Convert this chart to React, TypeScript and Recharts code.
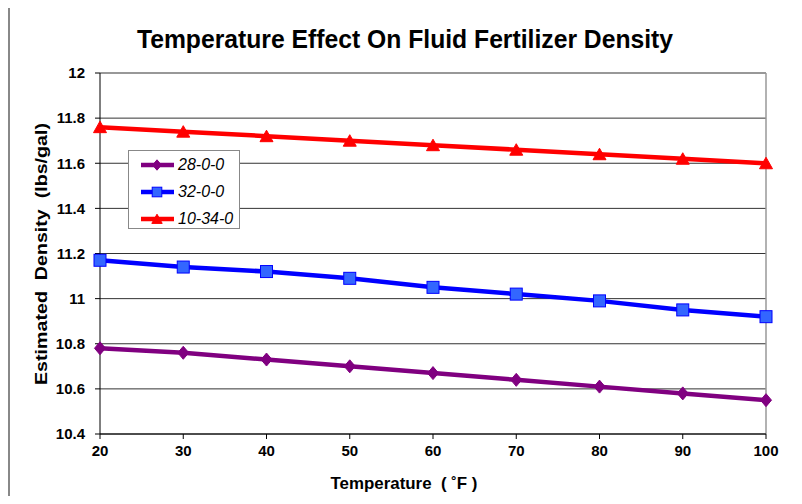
import React from "react";
import {
  LineChart,
  Line,
  XAxis,
  YAxis,
  CartesianGrid,
  Legend,
  ReferenceLine,
  Label,
} from "recharts";

// temperatures (F)
const temps = [20, 30, 40, 50, 60, 70, 80, 90, 100];
// estimated density, lbs/gal
const uan28 = [10.78, 10.76, 10.73, 10.7, 10.67, 10.64, 10.61, 10.58, 10.55];
const uan32 = [11.17, 11.14, 11.12, 11.09, 11.05, 11.02, 10.99, 10.95, 10.92];
const apoly = [11.76, 11.74, 11.72, 11.7, 11.68, 11.66, 11.64, 11.62, 11.6];

const seriesNames = ["28-0-0", "32-0-0", "10-34-0"];
const xTicks = [20, 30, 40, 50, 60, 70, 80, 90, 100];
const yTicks = [10.4, 10.6, 10.8, 11, 11.2, 11.4, 11.6, 11.8, 12];

const data = temps.map((t, i) => ({
  t,
  [seriesNames[0]]: uan28[i],
  [seriesNames[1]]: uan32[i],
  [seriesNames[2]]: apoly[i],
}));

const FONT = '"Liberation Sans", Arial, sans-serif';

const PURPLE = "#800080";
const BLUE = "#0000FF";
const RED = "#FF0000";

function Diamond({ cx, cy, s = 1 }: { cx: number; cy: number; s?: number }) {
  return (
    <polygon
      points={`${cx},${cy - 6.5 * s} ${cx + 5.5 * s},${cy} ${cx},${cy + 6.5 * s} ${cx - 5.5 * s},${cy}`}
      fill={PURPLE}
      stroke={PURPLE}
    />
  );
}

function Square({ cx, cy, s = 1 }: { cx: number; cy: number; s?: number }) {
  return (
    <rect
      x={cx - 6 * s}
      y={cy - 6 * s}
      width={12 * s}
      height={12 * s}
      fill="#3366FF"
      stroke={BLUE}
      strokeWidth={1}
    />
  );
}

function Triangle({ cx, cy, s = 1 }: { cx: number; cy: number; s?: number }) {
  return (
    <polygon
      points={`${cx},${cy - 6 * s} ${cx + 6.5 * s},${cy + 5.5 * s} ${cx - 6.5 * s},${cy + 5.5 * s}`}
      fill={RED}
      stroke={RED}
    />
  );
}

const markers: Record<string, any> = {
  "28-0-0": Diamond,
  "32-0-0": Square,
  "10-34-0": Triangle,
};
const colors: Record<string, string> = {
  "28-0-0": PURPLE,
  "32-0-0": BLUE,
  "10-34-0": RED,
};

function LegendBox() {
  return (
    <div
      style={{
        width: 112,
        height: 79,
        border: "1px solid #888",
        background: "#fff",
        boxSizing: "border-box",
      }}
    >
      {seriesNames.map((name) => {
        const M = markers[name];
        return (
          <div
            key={name}
            style={{ display: "flex", alignItems: "center", height: 27 }}
          >
            <svg width={48} height={16} style={{ marginLeft: 10 }}>
              <line x1={2} y1={8} x2={35} y2={8} stroke={colors[name]} strokeWidth={4.5} />
              <M cx={18} cy={8} s={0.8} />
            </svg>
            <span
              style={{
                fontFamily: FONT,
                fontStyle: "italic",
                fontSize: 16,
                color: "#000",
                marginLeft: -9,
              }}
            >
              {name}
            </span>
          </div>
        );
      })}
    </div>
  );
}

const tickStyle = {
  fill: "#000",
  fontSize: 15,
  fontWeight: "bold",
  fontFamily: FONT,
};

export default function App() {
  return (
    <div style={{ position: "relative", width: 802, height: 504, margin: -8, overflow: "hidden", background: "#fff" }}>
      {/* chart frame */}
      <div
        style={{
          position: "absolute",
          left: 8,
          top: 6,
          width: 789,
          height: 520,
          borderTop: "2px solid #333",
          borderLeft: "2px solid #888",
          borderRight: "1px solid #333",
          boxSizing: "border-box",
        }}
      />
      <div style={{ position: "absolute", left: 798, top: 10, width: 4, height: 494, background: "#000" }} />
      <div
        style={{
          position: "absolute",
          left: 0,
          top: 24,
          width: 810,
          textAlign: "center",
          fontFamily: FONT,
          fontWeight: "bold",
          fontSize: 26,
          color: "#000",
          transform: "scaleX(0.95)",
        }}
      >
        Temperature Effect On Fluid Fertilizer Density
      </div>
      <div style={{ position: "absolute", left: 0, top: 0 }}>
        <LineChart
          width={802}
          height={504}
          data={data}
          margin={{ top: 73, right: 36, bottom: 20, left: 0 }}
        >
          <CartesianGrid vertical={false} stroke="#333" />
          <ReferenceLine y={12} stroke="#999" strokeWidth={1.5} />
          <ReferenceLine x={100} stroke="#999" strokeWidth={1.5} />
          <XAxis
            dataKey="t"
            type="number"
            domain={[20, 100]}
            ticks={xTicks}
            height={50}
            tick={tickStyle}
            tickSize={5}
            tickMargin={6}
            axisLine={{ stroke: "#000" }}
            tickLine={{ stroke: "#000" }}
          >
            <Label
              content={() => (
                <text
                  x={404}
                  y={489}
                  textAnchor="middle"
                  fontFamily={FONT}
                  fontWeight="bold"
                  fontSize={17}
                  fill="#000"
                  textLength={147}
                  lengthAdjust="spacingAndGlyphs"
                  style={{ whiteSpace: "pre" }}
                >
                  Temperature  ( ˚F )
                </text>
              )}
            />
          </XAxis>
          <YAxis
            type="number"
            domain={[10.4, 12]}
            ticks={yTicks}
            width={100}
            tick={tickStyle}
            tickSize={5}
            tickMargin={10}
            tickFormatter={(v: number) => String(Number(v.toFixed(1)))}
            axisLine={{ stroke: "#000" }}
            tickLine={{ stroke: "#000" }}
          >
            <Label
              content={() => (
                <text
                  x={47}
                  y={254}
                  transform="rotate(-90 47 254)"
                  textAnchor="middle"
                  fontFamily={FONT}
                  fontWeight="bold"
                  fontSize={17}
                  fill="#000"
                  textLength={262}
                  lengthAdjust="spacingAndGlyphs"
                  style={{ whiteSpace: "pre" }}
                >
                  Estimated  Density  (lbs/gal)
                </text>
              )}
            />
          </YAxis>
          <Legend
            layout="vertical"
            align="center"
            verticalAlign="middle"
            content={LegendBox}
            wrapperStyle={{ position: "absolute", left: 128, top: 150, width: 112 }}
          />
          <Line
            dataKey="28-0-0"
            stroke={PURPLE}
            strokeWidth={4.5}
            dot={(p: any) => <Diamond key={p.index} cx={p.cx} cy={p.cy} />}
            isAnimationActive={false}
          />
          <Line
            dataKey="32-0-0"
            stroke={BLUE}
            strokeWidth={4.5}
            dot={(p: any) => <Square key={p.index} cx={p.cx} cy={p.cy} />}
            isAnimationActive={false}
          />
          <Line
            dataKey="10-34-0"
            stroke={RED}
            strokeWidth={4.5}
            dot={(p: any) => <Triangle key={p.index} cx={p.cx} cy={p.cy} />}
            isAnimationActive={false}
          />
        </LineChart>
      </div>
    </div>
  );
}
